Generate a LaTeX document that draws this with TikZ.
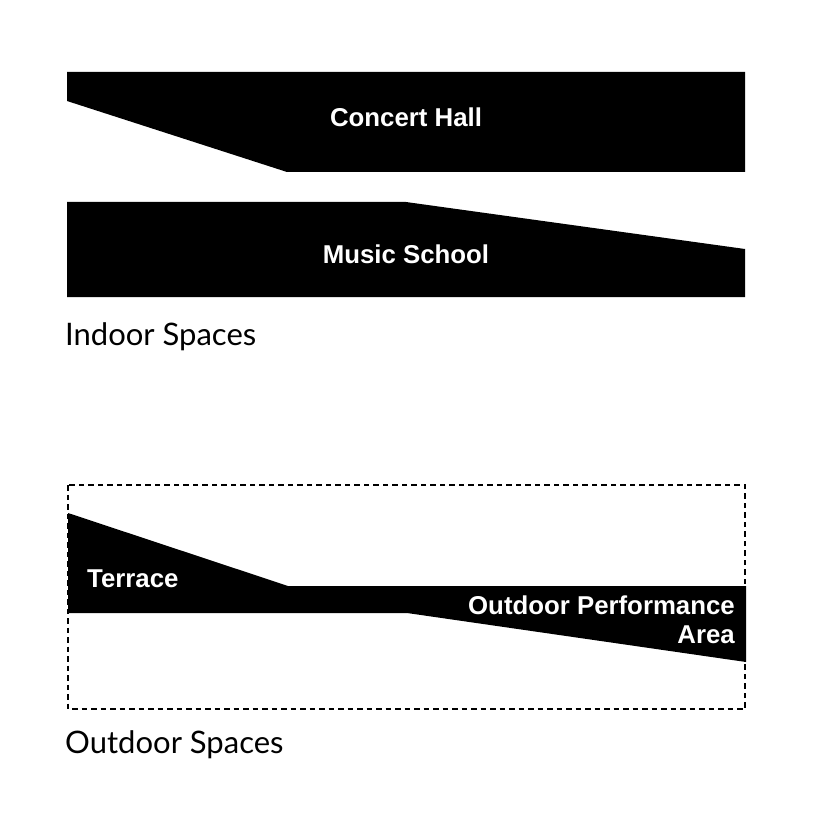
\documentclass[tikz,border=0pt]{standalone}
\usepackage{fontspec}
\setmainfont{Liberation Sans}
\newfontfamily\captionfont{Lato}
\begin{document}
\begin{tikzpicture}[x=1pt,y=-1pt,
  block/.style={fill=black,draw=none},
  lbl/.style={text=white,font=\fontsize{25.8}{30}\selectfont\bfseries,inner sep=0pt},
  captxt/.style={font=\captionfont\fontsize{31}{36}\selectfont,anchor=west,inner sep=0pt}]
\useasboundingbox (0,0) rectangle (818,818);
% Concert Hall
\fill[block] (67,72) -- (745,72) -- (745,172) -- (287,172) -- (67,101) -- cycle;
\node[lbl] (ch) at (406,117) {Concert Hall};
% Music School
\fill[block] (67,202) -- (406,202) -- (745,249) -- (745,297) -- (67,297) -- cycle;
\node[lbl] (ms) at (406,254) {Music School};
\node[captxt] (indoor) at (65,337) {Indoor Spaces};
% Outdoor
\draw[line width=1.1pt,dash pattern=on 5.5pt off 4pt] (68,485) rectangle (745,709);
\fill[block] (68,513) -- (288,586) -- (746,586) -- (746,662) -- (407,613) -- (68,613) -- cycle;
\node[lbl,anchor=west] (terr) at (87,579) {Terrace};
\node[lbl,anchor=east] (opa) at (735,605) {Outdoor Performance};
\node[lbl,anchor=east] (area) at (735,635) {Area};
\node[captxt] (outdoor) at (65,745) {Outdoor Spaces};
\end{tikzpicture}
\end{document}
